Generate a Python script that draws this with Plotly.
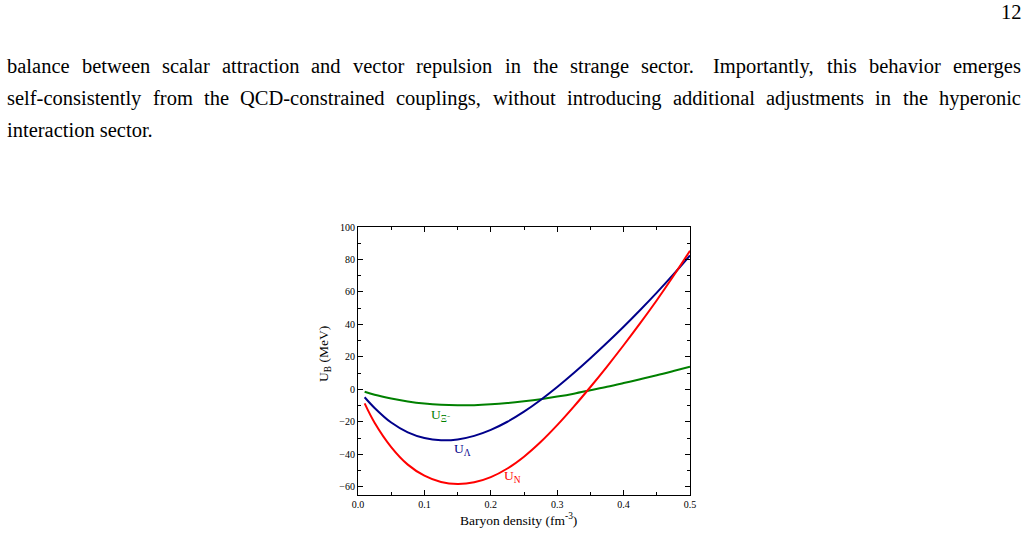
import plotly.graph_objects as go

# ---- data ----
density = [0.01, 0.025, 0.05, 0.075, 0.1, 0.125, 0.15, 0.175, 0.2, 0.225, 0.25,
           0.275, 0.3, 0.325, 0.35, 0.375, 0.4, 0.425, 0.45, 0.475, 0.5]
U_N = [-8.6, -20.5, -35.5, -46.3, -53.1, -57.0, -58.2, -57.2, -54.0, -48.7, -41.4,
       -32.4, -22.0, -10.6, 1.5, 14.1, 27.2, 40.8, 54.9, 69.8, 85.4]
U_Lambda = [-4.8, -11.4, -20.4, -26.4, -29.9, -31.3, -30.8, -28.6, -24.9, -19.9, -13.7,
            -6.5, 1.5, 10.1, 19.2, 28.7, 38.6, 48.9, 59.6, 70.8, 82.5]
U_Xi = [-1.4, -3.3, -5.6, -7.4, -8.7, -9.5, -9.8, -9.7, -9.2, -8.4, -7.3,
        -6.0, -4.4, -2.6, -0.5, 1.6, 3.9, 6.3, 8.7, 11.3, 14.0]

x_ticks = [0.0, 0.1, 0.2, 0.3, 0.4, 0.5]
x_ticklabels = ["0.0", "0.1", "0.2", "0.3", "0.4", "0.5"]
y_ticks = [-60, -40, -20, 0, 20, 40, 60, 80, 100]

page_lines = [
    "balance between scalar attraction and vector repulsion in the strange sector. Importantly, this behavior emerges",
    "self-consistently from the QCD-constrained couplings, without introducing additional adjustments in the hyperonic",
    "interaction sector.",
]
page_number = "12"

W, H = 1028, 533
L, R, T, B = 358, 690, 227, 495


def px(x):
    return (x - L) / (R - L)


def py(y):
    return (B - y) / (B - T)


SERIF = "Liberation Serif, Times New Roman, serif"
TEXT_SIZE = 20.5

# Times/Liberation Serif advance widths (em) used to lay out the justified lines
TM = dict(a=.444, b=.5, c=.444, d=.5, e=.444, f=.333, g=.5, h=.5, i=.278, j=.278, k=.5,
          l=.278, m=.778, n=.5, o=.5, p=.5, q=.5, r=.333, s=.389, t=.278, u=.5, v=.5,
          w=.722, x=.5, y=.5, z=.444)
TM.update({"I": .333, "Q": .722, "C": .667, "D": .722, ",": .25, ".": .25, "-": .333})


def word_positions(words, x0, x1, size):
    widths = [sum(TM.get(ch, .5) for ch in w) * size for w in words]
    weights = [1.5 if w.endswith(".") else 1.0 for w in words[:-1]]
    gap = ((x1 - x0) - sum(widths)) / sum(weights)
    pos, x = [], x0
    for i, w in enumerate(words):
        pos.append(x)
        if i < len(words) - 1:
            x += widths[i] + gap * weights[i]
    return pos


fig = go.Figure()
fig.add_trace(go.Scatter(x=density, y=U_Xi, mode="lines", line=dict(color="#008000", width=2, shape="spline"),
                         showlegend=False, hoverinfo="skip"))
fig.add_trace(go.Scatter(x=density, y=U_Lambda, mode="lines", line=dict(color="#00008B", width=2, shape="spline"),
                         showlegend=False, hoverinfo="skip"))
fig.add_trace(go.Scatter(x=density, y=U_N, mode="lines", line=dict(color="#FF0000", width=2, shape="spline"),
                         showlegend=False, hoverinfo="skip"))

axis_common = dict(showgrid=False, zeroline=False, showline=True, linecolor="black", linewidth=1,
                   mirror="ticks", ticks="inside", ticklen=5, tickwidth=1, tickcolor="black",
                   tickfont=dict(family=SERIF, size=10, color="black"))

fig.update_xaxes(range=[0, 0.5], tickvals=x_ticks, ticktext=x_ticklabels,
                 minor=dict(dtick=0.05, ticks="inside", ticklen=3, tickcolor="black"), **axis_common)
fig.update_yaxes(range=[-65, 100], tickvals=y_ticks,
                 minor=dict(dtick=10, ticks="inside", ticklen=3, tickcolor="black"), **axis_common)

ann = []
# page text: first two lines justified word by word, last line left aligned
for i, line in enumerate(page_lines):
    yc = py(66 + 32 * i)
    if i < 2:
        words = line.split()
        for w, xw in zip(words, word_positions(words, 7, 1021, TEXT_SIZE)):
            ann.append(dict(text=w, x=px(xw - 2), y=yc, xref="paper", yref="paper",
                            xanchor="left", yanchor="middle", showarrow=False,
                            font=dict(family=SERIF, size=TEXT_SIZE, color="black")))
    else:
        ann.append(dict(text=line, x=px(5), y=yc, xref="paper", yref="paper",
                        xanchor="left", yanchor="middle", showarrow=False,
                        font=dict(family=SERIF, size=TEXT_SIZE, color="black")))
ann.append(dict(text=page_number, x=px(1024), y=py(12), xref="paper", yref="paper",
                xanchor="right", yanchor="middle", showarrow=False,
                font=dict(family=SERIF, size=TEXT_SIZE, color="black")))
# axis titles
ann.append(dict(text="U<sub>B</sub> (MeV)", x=px(324), y=py(354), xref="paper", yref="paper",
                textangle=-90, xanchor="center", yanchor="middle", showarrow=False,
                font=dict(family=SERIF, size=13.5, color="black")))
ann.append(dict(text="Baryon density (fm<sup>-3</sup>)", x=px(518), y=py(519), xref="paper", yref="paper",
                xanchor="center", yanchor="middle", showarrow=False,
                font=dict(family=SERIF, size=13.5, color="black")))
# curve labels
ann.append(dict(text="U<sub>Ξ⁻</sub>", x=0.1235, y=-15.8, xref="x", yref="y", showarrow=False,
                font=dict(family=SERIF, size=13.5, color="#008000")))
ann.append(dict(text="U<sub>Λ</sub>", x=0.158, y=-36.8, xref="x", yref="y", showarrow=False,
                font=dict(family=SERIF, size=13.5, color="#00008B")))
ann.append(dict(text="U<sub>N</sub>", x=0.233, y=-53.4, xref="x", yref="y", showarrow=False,
                font=dict(family=SERIF, size=13.5, color="#FF0000")))

fig.update_layout(width=W, height=H, autosize=False,
                  margin=dict(l=L, r=W - R, t=T, b=H - B, pad=0),
                  paper_bgcolor="white", plot_bgcolor="white",
                  annotations=ann)

fig.write_html("out.html", config={"displayModeBar": False})
